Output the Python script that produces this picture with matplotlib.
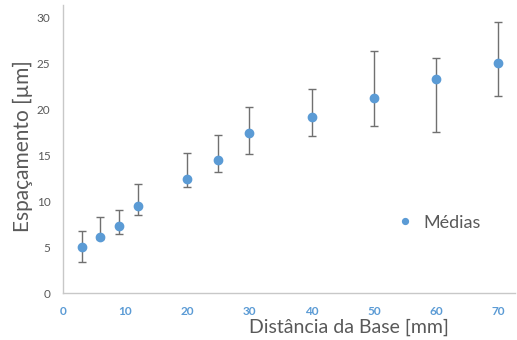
import matplotlib.pyplot as plt

plt.rcParams['font.family'] = ['Lato', 'DejaVu Sans']

distancia = [3, 6, 9, 12, 20, 25, 30, 40, 50, 60, 70]
medias = [5.0, 6.1, 7.3, 9.5, 12.4, 14.5, 17.5, 19.2, 21.3, 23.3, 25.1]
err_sup = [6.8, 8.3, 9.1, 11.9, 15.3, 17.2, 20.3, 22.2, 26.4, 25.6, 29.6]
err_inf = [3.4, 5.9, 6.4, 8.5, 11.6, 13.2, 15.2, 17.1, 18.2, 17.6, 21.5]

x_ticks = [0, 10, 20, 30, 40, 50, 60, 70]
y_ticks = [0, 5, 10, 15, 20, 25, 30]

azul = '#5B9BD5'
cinza = '#595959'

yerr = [[m - lo for m, lo in zip(medias, err_inf)],
        [hi - m for m, hi in zip(medias, err_sup)]]

fig = plt.figure(figsize=(5.17, 3.4), dpi=100)
ax = fig.add_axes([0.122, 0.138, 0.875, 0.847])

ax.errorbar(distancia, medias, yerr=yerr, fmt='none', ecolor='#707070',
            elinewidth=1.0, capsize=3, capthick=1.0, zorder=2)
ax.plot(distancia, medias, 'o', color=azul, markersize=6, label='Médias', zorder=3)

ax.set_xlim(0, 72.8)
ax.set_ylim(0, 31.4)
ax.set_xticks(x_ticks)
ax.set_yticks(y_ticks)
ax.tick_params(length=0)
ax.tick_params(axis='x', pad=9)
ax.tick_params(axis='y', pad=9)
for lbl in ax.get_xticklabels():
    lbl.set_color(azul)
    lbl.set_fontweight('bold')
    lbl.set_fontsize(8.5)
for lbl in ax.get_yticklabels():
    lbl.set_color(cinza)
    lbl.set_fontsize(8.5)

for s in ['top', 'right']:
    ax.spines[s].set_visible(False)
for s in ['left', 'bottom']:
    ax.spines[s].set_color('#c8c8c8')
    ax.spines[s].set_linewidth(1.0)

ax.set_xlabel('Distância da Base [mm]', color=cinza, fontsize=14)
ax.xaxis.set_label_coords(0.633, -0.09)
ax.set_ylabel('Espaçamento [µm]', color=cinza, fontsize=15)
ax.yaxis.set_label_coords(-0.066, 0.51)

ax.legend(loc='center left', bbox_to_anchor=(0.68, 0.245), frameon=False,
          fontsize=13, labelcolor=cinza, handletextpad=0.0, markerscale=0.7)

fig.savefig('out.png', dpi=100)
